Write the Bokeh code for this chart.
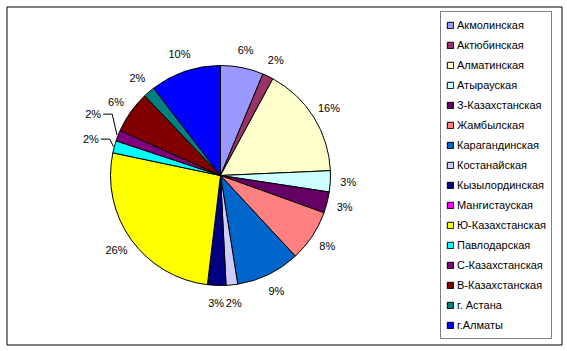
import math
from bokeh.plotting import figure
from bokeh.models import ColumnDataSource, Range1d, Legend, LegendItem
from bokeh.core.properties import value
from bokeh.embed import file_html
from bokeh.resources import INLINE

# ---- data ----
regions = ["Акмолинская", "Актюбинская", "Алматинская", "Атырауская",
           "З-Казахстанская", "Жамбылская", "Карагандинская", "Костанайская",
           "Кызылординская", "Мангистауская", "Ю-Казахстанская", "Павлодарская",
           "С-Казахстанская", "В-Казахстанская", "г. Астана", "г.Алматы"]
shares = [6.3, 1.6, 16.4, 3.1, 3.1, 7.6, 9.4, 1.7, 2.7, 0.0, 26.4, 1.8, 1.6, 6.2, 1.7, 10.4]
colors = ["#9999FF", "#993366", "#FFFFCC", "#CCFFFF", "#660066", "#FF8080",
          "#0066CC", "#CCCCFF", "#000080", "#FF00FF", "#FFFF00", "#00FFFF",
          "#800080", "#800000", "#008080", "#0000FF"]

# ---- layout / style ----
W, H = 567, 351
CX, CY, R = 220, H - 175, 110
RL = 128
FONT = "Liberation Sans"
# label nudges (pixels) for labels drawn with leader lines
nudges = {"Павлодарская": (-6, 3), "С-Казахстанская": (-8, 15)}

total = sum(shares)
starts, ends, mids = [], [], []
cum = 0.0
for s in shares:
    a0 = math.pi / 2 - 2 * math.pi * cum / total
    cum += s
    a1 = math.pi / 2 - 2 * math.pi * cum / total
    starts.append(a1)
    ends.append(a0)
    mids.append((a0 + a1) / 2)

keep = [i for i, s in enumerate(shares) if s > 0]
pie_src = ColumnDataSource(dict(region=[regions[i] for i in keep],
                                share=[shares[i] for i in keep],
                                color=[colors[i] for i in keep],
                                start=[starts[i] for i in keep],
                                end=[ends[i] for i in keep]))
leg_src = ColumnDataSource(dict(region=regions, color=colors,
                                l=[-30] * len(regions), r=[-20] * len(regions),
                                b=[-30] * len(regions), t=[-20] * len(regions)))

p = figure(width=W, height=H, output_backend="svg", toolbar_location=None,
           x_range=Range1d(0, W), y_range=Range1d(0, H), min_border=0,
           x_axis_location=None, y_axis_location=None,
           background_fill_color="white", border_fill_color="white",
           outline_line_color=None)
p.xgrid.visible = False
p.ygrid.visible = False

# outer chart border
p.quad(left=6.5, right=561.5, top=H - 6.5, bottom=H - 344.5,
       fill_color=None, line_color="black", line_width=1)

p.wedge(x=CX, y=CY, radius=R, start_angle="start", end_angle="end",
        fill_color="color", line_color="black", line_width=1, source=pie_src)

# legend swatches (off-canvas renderer used only for the legend)
swatch = p.quad(left="l", right="r", bottom="b", top="t", fill_color="color",
                line_color="black", line_width=1, source=leg_src)

# percentage labels
lx, ly, lt = [], [], []
leaders_x, leaders_y = [], []
for name, s, m in zip(regions, shares, mids):
    if s <= 0:
        continue
    x = CX + RL * math.cos(m)
    y = CY + RL * math.sin(m)
    if name in nudges:
        dx, dy = nudges[name]
        x += dx
        y += dy
        ex = CX + (R + 1) * math.cos(m)
        ey = CY + (R + 1) * math.sin(m)
        tx = x + 10
        if abs(ey - y) > 6:
            leaders_x.append([tx, tx + 9, ex])
            leaders_y.append([y, y, ey])
        else:
            leaders_x.append([tx, ex])
            leaders_y.append([y, ey])
    lx.append(x)
    ly.append(y)
    lt.append(f"{round(s / total * 100)}%")

p.multi_line(xs=leaders_x, ys=leaders_y, line_color="black", line_width=1)
p.text(x=lx, y=ly, text=lt, text_font=value(FONT), text_font_size="11px",
       text_align="center", text_baseline="middle", text_color="black")

legend = Legend(items=[LegendItem(label=regions[i], renderers=[swatch], index=i)
                       for i in range(len(regions))],
                location=(440, H - 339), orientation="vertical",
                glyph_width=8, glyph_height=8, label_height=16, spacing=4,
                padding=5, label_standoff=3, margin=0,
                border_line_color="black", border_line_width=1,
                background_fill_color="white", background_fill_alpha=1.0,
                label_text_font=FONT, label_text_font_size="11px",
                label_text_color="black")
p.add_layout(legend)

open("out.html", "w").write(file_html(p, INLINE))
